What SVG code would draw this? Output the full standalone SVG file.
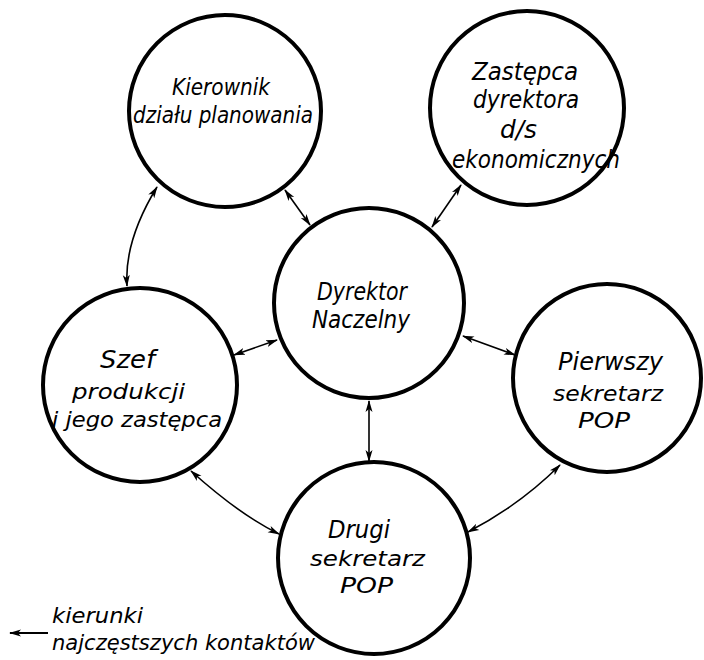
<svg xmlns="http://www.w3.org/2000/svg" width="704" height="660" viewBox="0 0 704 660">
<defs>
<marker id="ah" viewBox="0 0 12 8" refX="11" refY="4" markerWidth="12" markerHeight="8" markerUnits="userSpaceOnUse" orient="auto-start-reverse">
<path d="M0,0.5 L12,4 L0,7.5 L3,4 Z" fill="#000"/>
</marker>
</defs>
<style>
.node circle{fill:#fff;stroke:#000;stroke-width:4}
text{font-family:"DejaVu Sans Condensed","DejaVu Sans","Liberation Sans",sans-serif;font-style:italic;fill:#000;font-size:25px}
.sm{font-size:23px}
.t{font-size:22px}
.lg{font-size:21px}
#connectors path{fill:none;stroke:#000;stroke-width:1.6;marker-start:url(#ah);marker-end:url(#ah)}
</style>
<rect width="704" height="660" fill="#fff"/>
<g id="connectors">
<path d="M157,187 Q124,241 127,286"/>
<path d="M285,190 L310,225"/>
<path d="M461,185 L432,227"/>
<path d="M234,355 L277,340"/>
<path d="M463,336 L515,355"/>
<path d="M369,401 L369,461"/>
<path d="M191,471 Q240,515 279,534"/>
<path d="M560,465 Q520,505 468,532"/>
</g>
<g id="n-kierownik" class="node">
<circle cx="225" cy="111" r="96"/>
<text class="sm" x="172" y="95" textLength="98" lengthAdjust="spacingAndGlyphs">Kierownik</text>
<text class="sm" x="133" y="123" textLength="180" lengthAdjust="spacingAndGlyphs">działu planowania</text>
</g>
<g id="n-zastepca" class="node">
<circle cx="527" cy="108" r="97"/>
<text x="472" y="80" textLength="106" lengthAdjust="spacingAndGlyphs">Zastępca</text>
<text x="473" y="108" textLength="106" lengthAdjust="spacingAndGlyphs">dyrektora</text>
<text x="500" y="138" textLength="37" lengthAdjust="spacingAndGlyphs">d/s</text>
<text x="452" y="168" textLength="168" lengthAdjust="spacingAndGlyphs">ekonomicznych</text>
</g>
<g id="n-szef" class="node">
<circle cx="140" cy="385" r="97"/>
<text x="100" y="368" textLength="55" lengthAdjust="spacingAndGlyphs">Szef</text>
<text class="t" x="72" y="399" textLength="113" lengthAdjust="spacingAndGlyphs">produkcji</text>
<text class="t" x="52" y="427" textLength="170" lengthAdjust="spacingAndGlyphs">i jego zastępca</text>
</g>
<g id="n-dyrektor" class="node">
<circle cx="369" cy="303" r="95"/>
<text x="317" y="300" textLength="90" lengthAdjust="spacingAndGlyphs">Dyrektor</text>
<text x="312" y="328" textLength="98" lengthAdjust="spacingAndGlyphs">Naczelny</text>
</g>
<g id="n-pierwszy" class="node">
<circle cx="607" cy="378" r="94"/>
<text x="558" y="370" textLength="105" lengthAdjust="spacingAndGlyphs">Pierwszy</text>
<text class="t" x="553" y="401" textLength="110" lengthAdjust="spacingAndGlyphs">sekretarz</text>
<text class="t" x="578" y="428" textLength="52" lengthAdjust="spacingAndGlyphs">POP</text>
</g>
<g id="n-drugi" class="node">
<circle cx="374" cy="558" r="96"/>
<text x="328" y="538" textLength="62" lengthAdjust="spacingAndGlyphs">Drugi</text>
<text class="t" x="310" y="566" textLength="115" lengthAdjust="spacingAndGlyphs">sekretarz</text>
<text class="t" x="340" y="593" textLength="53" lengthAdjust="spacingAndGlyphs">POP</text>
</g>
<g id="legend">
<line x1="48" y1="633" x2="10" y2="633" stroke="#000" stroke-width="2.2" marker-end="url(#ah)"/>
<text class="lg" x="52" y="623" textLength="91" lengthAdjust="spacingAndGlyphs">kierunki</text>
<text class="lg" x="52" y="650" textLength="263" lengthAdjust="spacingAndGlyphs">najczęstszych kontaktów</text>
</g>
</svg>
